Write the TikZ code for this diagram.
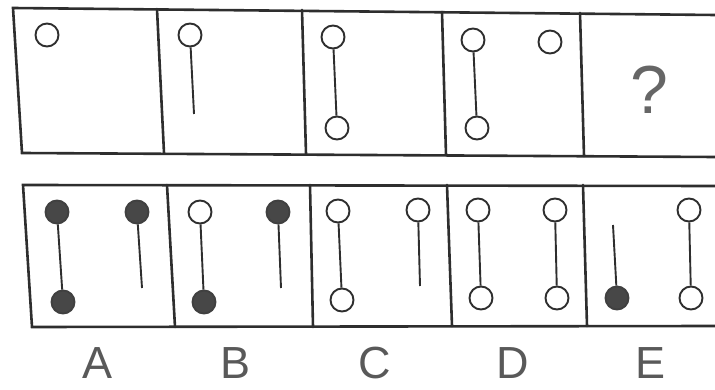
\documentclass[tikz,border=0pt]{standalone}
\usepackage{fontspec}
\setmainfont{Liberation Sans}
\begin{document}
\begin{tikzpicture}[x=1pt,y=-1pt,
  frame/.style={line width=2.6pt,draw=black!82,line cap=round},
  oc/.style={circle,draw=black!82,line width=1.9pt,minimum size=23pt,inner sep=0pt,fill=white},
  fc/.style={oc,fill=black!72,draw=black!75},
  stick/.style={line width=1.9pt,draw=black!82},
  lab/.style={font=\fontsize{45}{45}\selectfont,text=black!65,anchor=base,inner sep=0pt},
  qm/.style={font=\fontsize{68}{68}\selectfont,text=black!60}]
\useasboundingbox (0,0) rectangle (715,390);
% top row frame
\draw[frame] (715,15) -- (13,8) -- (22,153) -- (715,157);
\draw[frame] (157,9) -- (164,153);
\draw[frame] (302,10) -- (306,154);
\draw[frame] (442,12) -- (446,155);
\draw[frame] (580,13) -- (584,156);
% bottom row frame
\draw[frame] (715,186) -- (23,185) -- (32,327) -- (715,326);
\draw[frame] (167,185) -- (175,327);
\draw[frame] (310,185) -- (313,327);
\draw[frame] (447,185) -- (452,326);
\draw[frame] (583,185) -- (587,326);
% top row cells
\node[oc] (t1) at (47,35) {};
\node[oc] (t2) at (190,35) {};
\coordinate (t2e) at (194,114);
\draw[stick] (t2) -- (t2e);
\node[oc] (t3a) at (333,37) {};
\node[oc] (t3b) at (337,128) {};
\draw[stick] (t3a) -- (t3b);
\node[oc] (t4a) at (473,40) {};
\node[oc] (t4b) at (477,128) {};
\draw[stick] (t4a) -- (t4b);
\node[oc] (t4c) at (550,42) {};
\node[qm] (q) at (649,90) {?};
% bottom row: A
\node[fc] (a1) at (57,212) {};
\node[fc] (a2) at (63,302) {};
\draw[stick] (a1) -- (a2);
\node[fc] (a3) at (137,212) {};
\coordinate (a3e) at (142,288);
\draw[stick] (a3) -- (a3e);
% B
\node[oc] (b1) at (200,212) {};
\node[fc] (b2) at (204,302) {};
\draw[stick] (b1) -- (b2);
\node[fc] (b3) at (278,212) {};
\coordinate (b3e) at (281,288);
\draw[stick] (b3) -- (b3e);
% C
\node[oc] (c1) at (338,211) {};
\node[oc] (c2) at (342,300) {};
\draw[stick] (c1) -- (c2);
\node[oc] (c3) at (418,210) {};
\coordinate (c3e) at (420,286);
\draw[stick] (c3) -- (c3e);
% D
\node[oc] (d1) at (478,210) {};
\node[oc] (d2) at (481,298) {};
\draw[stick] (d1) -- (d2);
\node[oc] (d3) at (555,210) {};
\node[oc] (d4) at (557,298) {};
\draw[stick] (d3) -- (d4);
% E
\coordinate (e1e) at (613,225);
\node[fc] (e1) at (617,298) {};
\draw[stick] (e1e) -- (e1);
\node[oc] (e2) at (689,210) {};
\node[oc] (e3) at (691,298) {};
\draw[stick] (e2) -- (e3);
% labels
\node[lab] (la) at (98,378) {A};
\node[lab] (lb) at (236,378) {B};
\node[lab] (lc) at (375,378) {C};
\node[lab] (ld) at (513,378) {D};
\node[lab] (le) at (651,378) {E};
\end{tikzpicture}
\end{document}
